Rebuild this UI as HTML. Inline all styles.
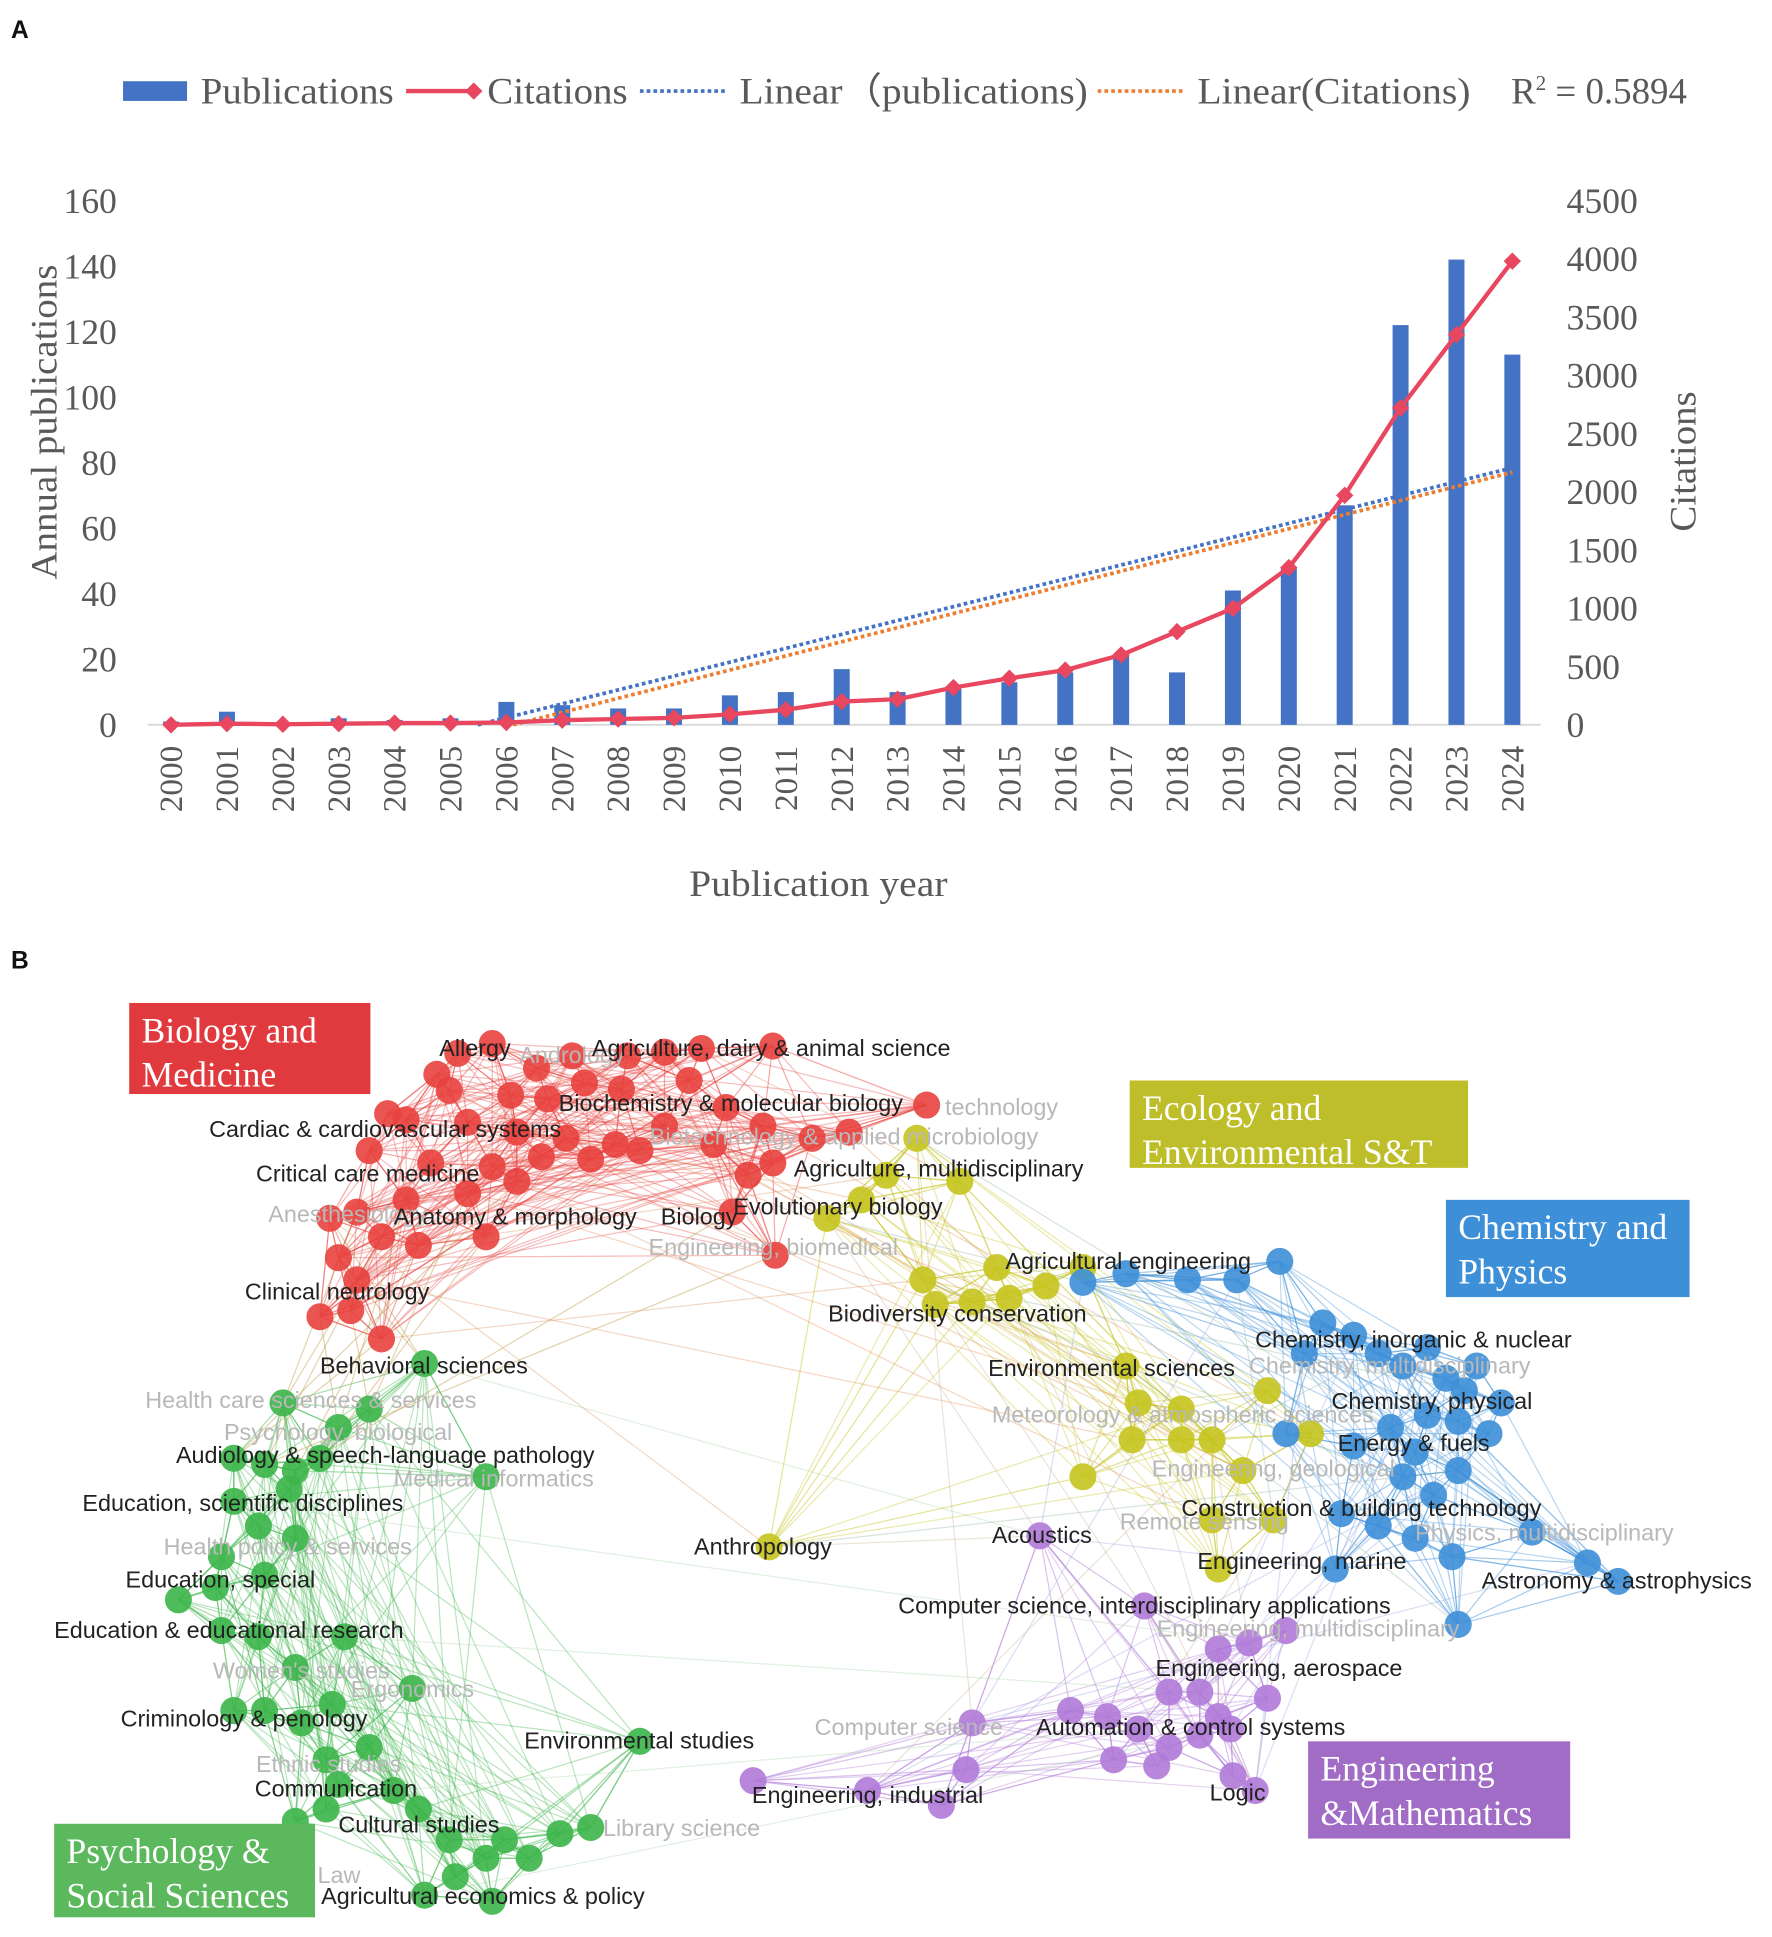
<!DOCTYPE html>
<html><head><meta charset="utf-8"><style>
html,body{margin:0;padding:0;background:#fff;}
svg{display:block;}
.serif{font-family:"Liberation Serif",serif;fill:#595959;}
.lbl{font-family:"Liberation Sans",sans-serif;font-size:19px;}
</style></head><body>
<svg id="root" width="1772" height="1937" viewBox="0 0 1440 1574" preserveAspectRatio="none" xmlns="http://www.w3.org/2000/svg">
<text x="9" y="31" font-family="Liberation Sans,sans-serif" font-weight="bold" font-size="20" fill="#111">A</text>
<text x="9" y="787" font-family="Liberation Sans,sans-serif" font-weight="bold" font-size="20" fill="#111">B</text>
<g id="chartA"></g>
<g id="net"></g>
</svg>
<script>
const years=[2000,2001,2002,2003,2004,2005,2006,2007,2008,2009,2010,2011,2012,2013,2014,2015,2016,2017,2018,2019,2020,2021,2022,2023,2024];
const publications=[1,4,0.5,2,1.5,2,7,6,5,5,9,10,17,10,11,13,16,21,16,41,48,67,122,142,113];
const citations=[0,10,5,10,15,15,20,40,50,60,90,130,200,220,320,400,470,600,800,1000,1350,1970,2720,3350,3980];
const leftTicks=[0,20,40,60,80,100,120,140,160];
const rightTicks=[0,500,1000,1500,2000,2500,3000,3500,4000,4500];
const NS="http://www.w3.org/2000/svg";
function mk(tag,attrs,parent){const e=document.createElementNS(NS,tag);for(const k in attrs)e.setAttribute(k,attrs[k]);parent.appendChild(e);return e;}
const A=document.getElementById('chartA');
const x0=139,dx=(1229-139)/24,yb=589,yt=163;
const xs=i=>x0+i*dx;
const yL=v=>yb-(v/160)*(yb-yt);
const yR=v=>yb-(v/4500)*(yb-yt);
leftTicks.forEach(t=>{const e=mk('text',{x:95,y:yL(t)+10,'text-anchor':'end','font-size':29,class:'serif'},A);e.textContent=t;

});
rightTicks.forEach(t=>{const e=mk('text',{x:1273,y:yR(t)+10,'font-size':29,class:'serif'},A);e.textContent=t;

});
let ax=mk('line',{x1:120,x2:1252,y1:yb,y2:yb,stroke:'#d9d9d9','stroke-width':1.5},A);


years.forEach((y,i)=>{
 const b=mk('rect',{x:xs(i)-6.5,y:yL(publications[i]),width:13,height:yb-yL(publications[i]),fill:'#4472c4'},A);
 
 
 const t=mk('text',{transform:`translate(${xs(i)+9},${606}) rotate(-90)`,'text-anchor':'end','font-size':27,class:'serif'},A);t.textContent=y;
 
 
});
function reg(arr){const n=arr.length;let sx=0,sy=0,sxy=0,sxx=0;arr.forEach((v,i)=>{sx+=i;sy+=v;sxy+=i*v;sxx+=i*i;});const m=(n*sxy-sx*sy)/(n*sxx-sx*sx);return [m,(sy-m*sx)/n];}
function trend(arr,fy,col,name){const [m,c]=reg(arr);const i0=Math.max(0,-c/m);const p=mk('line',{x1:xs(i0),y1:fy(m*i0+c),x2:xs(24),y2:fy(m*24+c),stroke:col,'stroke-width':3,'stroke-dasharray':'3 2.5'},A);

}
trend(publications,yL,'#4472c4','trend-publications');
trend(citations,yR,'#ed7d31','trend-citations');
const cl=mk('polyline',{points:citations.map((v,i)=>xs(i)+','+yR(v)).join(' '),fill:'none',stroke:'#e8475f','stroke-width':3.5},A);


citations.forEach((v,i)=>{const d=mk('rect',{x:xs(i)-5,y:yR(v)-5,width:10,height:10,fill:'#e8475f',transform:`rotate(45 ${xs(i)} ${yR(v)})`},A);

});
function txt(s,attrs,name,p){const e=mk('text',attrs,p||A);e.textContent=s;return e;}
txt('Annual publications',{transform:'translate(46,343) rotate(-90)','text-anchor':'middle','font-size':30,class:'serif',textLength:256,lengthAdjust:'spacingAndGlyphs'},'y-axis-title');
txt('Citations',{transform:'translate(1378,375) rotate(-90)','text-anchor':'middle','font-size':30,class:'serif',textLength:114,lengthAdjust:'spacingAndGlyphs'},'y2-axis-title');
txt('Publication year',{x:665,y:728,'text-anchor':'middle','font-size':30,class:'serif',textLength:210,lengthAdjust:'spacingAndGlyphs'},'x-axis-title');
const L=mk('g',{},A);
mk('rect',{x:100,y:66,width:52,height:16,fill:'#4472c4'},L);
txt('Publications',{x:163,y:84,'font-size':30,class:'serif',textLength:157,lengthAdjust:'spacingAndGlyphs'},'legend-publications',L);
mk('line',{x1:330,x2:385,y1:74,y2:74,stroke:'#e8475f','stroke-width':3.5},L);
mk('rect',{x:380,y:69,width:10,height:10,fill:'#e8475f',transform:'rotate(45 385 74)'},L);
txt('Citations',{x:396,y:84,'font-size':30,class:'serif',textLength:114,lengthAdjust:'spacingAndGlyphs'},'legend-citations',L);
mk('line',{x1:520,x2:590,y1:74,y2:74,stroke:'#4472c4','stroke-width':3,'stroke-dasharray':'3 2.5'},L);
txt('Linear（publications)',{x:601,y:84,'font-size':30,class:'serif',textLength:283,lengthAdjust:'spacingAndGlyphs'},'legend-linear-publications',L);
mk('line',{x1:892,x2:962,y1:74,y2:74,stroke:'#ed7d31','stroke-width':3,'stroke-dasharray':'3 2.5'},L);
txt('Linear(Citations)',{x:973,y:84,'font-size':30,class:'serif',textLength:222,lengthAdjust:'spacingAndGlyphs'},'legend-linear-citations',L);
const r2=txt('R',{x:1228,y:84,'font-size':30,class:'serif'},'legend-r-squared',L);
const ts=document.createElementNS(NS,'tspan');ts.setAttribute('dy','-11');ts.setAttribute('font-size','17');ts.textContent='2';r2.appendChild(ts);
const ts2=document.createElementNS(NS,'tspan');ts2.setAttribute('dy','11');ts2.textContent=' = 0.5894';r2.appendChild(ts2);

const N=document.getElementById('net');
const red=[[400,848],[372,856],[436,868],[465,858],[510,858],[540,855],[570,852],[628,850],[355,873],[365,886],[415,890],[445,893],[475,880],[505,885],[560,878],[590,900],[753,898],[315,905],[330,910],[380,912],[420,920],[460,925],[500,930],[540,915],[580,930],[620,915],[660,925],[690,920],[300,935],[350,945],[400,948],[440,940],[480,942],[520,935],[608,955],[628,945],[268,990],[290,985],[330,975],[380,970],[420,960],[310,1005],[340,1012],[395,1005],[275,1022],[290,1040],[260,1070],[285,1065],[310,1088],[630,1020],[595,985]];
const yellow=[[672,990],[700,975],[720,955],[745,925],[780,960],[810,1030],[750,1040],[760,1060],[790,1058],[820,1055],[850,1045],[880,1030],[915,1110],[925,1140],[960,1145],[985,1170],[960,1170],[920,1170],[1030,1130],[1010,1195],[985,1235],[1035,1235],[990,1275],[1065,1165],[625,1257],[880,1200]];
const blue=[[880,1042],[915,1035],[965,1040],[1005,1040],[1040,1025],[1075,1075],[1100,1085],[1120,1100],[1140,1110],[1160,1095],[1175,1120],[1190,1130],[1160,1150],[1185,1155],[1210,1165],[1130,1160],[1100,1175],[1150,1180],[1185,1195],[1045,1165],[1090,1230],[1120,1240],[1150,1250],[1180,1265],[1085,1275],[1245,1245],[1185,1320],[1290,1270],[1315,1285],[1140,1200],[1165,1215],[1200,1110],[1220,1140],[1060,1100]];
const green=[[345,1108],[230,1140],[275,1160],[300,1145],[190,1185],[215,1190],[240,1195],[260,1185],[235,1210],[190,1220],[210,1240],[240,1250],[180,1265],[145,1300],[175,1290],[215,1280],[180,1325],[210,1330],[280,1330],[240,1355],[335,1372],[190,1390],[215,1390],[270,1385],[245,1400],[265,1430],[275,1450],[320,1455],[340,1470],[365,1495],[395,1510],[410,1495],[430,1510],[455,1490],[480,1485],[370,1525],[345,1540],[400,1545],[520,1415],[395,1200],[300,1420],[265,1470],[240,1480]];
const purple=[[845,1248],[930,1305],[990,1340],[1015,1335],[1045,1325],[950,1375],[975,1375],[990,1395],[900,1395],[925,1405],[950,1420],[975,1410],[1000,1405],[905,1430],[940,1435],[790,1400],[785,1438],[765,1467],[705,1455],[612,1447],[1002,1443],[1020,1455],[870,1390],[1030,1380]];
const clusters=[[red,'#e8413e'],[yellow,'#c5c41e'],[blue,'#3d8fd8'],[green,'#3cb54a'],[purple,'#b07ad8']];
const EG=mk('g',{},N);
clusters.forEach(([pts,col],ci)=>{
 pts.forEach((p,i)=>{
  const ds=pts.map((q,j)=>[Math.hypot(q[0]-p[0],q[1]-p[1]),j]).sort((a,b)=>a[0]-b[0]);
  for(let k=1;k<6&&k<ds.length;k++){const q=pts[ds[k][1]];mk('line',{x1:p[0],y1:p[1],x2:q[0],y2:q[1],stroke:col,'stroke-width':1,opacity:.45},EG);}
  pts.forEach((q,j)=>{if(j>i&&(i*7+j*13)%5===0)mk('line',{x1:p[0],y1:p[1],x2:q[0],y2:q[1],stroke:col,'stroke-width':1,opacity:.35},EG);});
 });
});
// neighbouring cluster links (red-yellow, yellow-blue, blue-purple, red-green)
[[red,yellow,'#e0905a'],[yellow,blue,'#8fb4a0'],[blue,purple,'#9aa4e0'],[yellow,purple,'#c8b090']].forEach(([a,b,col])=>{
 a.forEach((p,i)=>{if(i%3===0){const q=b[(i*5)%b.length];mk('line',{x1:p[0],y1:p[1],x2:q[0],y2:q[1],stroke:col,'stroke-width':1,opacity:.35},EG);}});});
red.slice(36).forEach((p,i)=>{const q=green[i%8];mk('line',{x1:p[0],y1:p[1],x2:q[0],y2:q[1],stroke:'#b8943a','stroke-width':1,opacity:.4},EG);});
green.forEach((p,i)=>{if(i%9===0){const q=purple[(i*3)%purple.length];mk('line',{x1:p[0],y1:p[1],x2:q[0],y2:q[1],stroke:'#9fd09a','stroke-width':1,opacity:.3},EG);}});
const NG=mk('g',{},N);
clusters.forEach(([pts,col])=>{pts.forEach(p=>{const c=mk('circle',{cx:p[0],cy:p[1],r:11,fill:col,opacity:.9},NG);

});});
const labels=[["Allergy",357,858,1],["Andrology",422,864,0],["Agriculture, dairy & animal science",481,858,1],["Biochemistry & molecular biology",454,903,1],["technology",768,906,0],["Cardiac & cardiovascular systems",170,924,1],["Biotechnology & applied microbiology",528,930,0],["Agriculture, multidisciplinary",645,956,1],["Critical care medicine",208,960,1],["Anesthesiology",218,993,0],["Anatomy & morphology",320,995,1],["Biology",537,995,1],["Evolutionary biology",596,987,1],["Engineering, biomedical",527,1020,0],["Agricultural engineering",817,1031,1],["Clinical neurology",199,1056,1],["Biodiversity conservation",673,1074,1],["Chemistry, inorganic & nuclear",1020,1095,1],["Behavioral sciences",260,1116,1],["Environmental sciences",803,1118,1],["Chemistry, multidisciplinary",1015,1116,0],["Health care sciences & services",118,1144,0],["Chemistry, physical",1082,1145,1],["Meteorology & atmospheric sciences",806,1156,0],["Psychology, biological",182,1170,0],["Energy & fuels",1087,1179,1],["Audiology & speech-language pathology",143,1189,1],["Engineering, geological",936,1200,0],["Medical informatics",320,1208,0],["Education, scientific disciplines",67,1228,1],["Construction & building technology",960,1232,1],["Remote sensing",910,1243,0],["Acoustics",806,1254,1],["Physics, multidisciplinary",1150,1252,0],["Health policy & services",133,1263,0],["Anthropology",564,1263,1],["Education, special",102,1290,1],["Engineering, marine",973,1275,1],["Astronomy & astrophysics",1204,1291,1],["Computer science, interdisciplinary applications",730,1311,1],["Education & educational research",44,1331,1],["Engineering, multidisciplinary",940,1330,0],["Women's studies",173,1364,0],["Engineering, aerospace",939,1362,1],["Ergonomics",285,1379,0],["Criminology & penology",98,1403,1],["Computer science",662,1410,0],["Automation & control systems",842,1410,1],["Environmental studies",426,1421,1],["Ethnic studies",208,1440,0],["Communication",207,1460,1],["Engineering, industrial",611,1465,1],["Logic",983,1463,1],["Cultural studies",275,1489,1],["Library science",490,1492,0],["Law",258,1530,0],["Agricultural economics & policy",261,1547,1]];
labels.forEach(([s,x,y,dark])=>{const t=mk('text',{x:x,y:y,class:'lbl',fill:dark?'#222':'#b8b8b8'},N);t.textContent=s;

});
const boxes=[["Biology and","Medicine",105,815,196,74,'#e03a3e','cluster-box-biology'],["Ecology and","Environmental S&T",918,878,275,71,'#bebd2a','cluster-box-ecology'],["Chemistry and","Physics",1175,975,198,79,'#3d8fd8','cluster-box-chemistry'],["Engineering","&Mathematics",1063,1415,213,79,'#a06cc6','cluster-box-engineering'],["Psychology &","Social Sciences",44,1482,212,76,'#5cb85c','cluster-box-psychology']];
boxes.forEach(([a,b,x,y,w,h,c,n])=>{const g=mk('g',{},N);
mk('rect',{x:x,y:y,width:w,height:h,fill:c},g);
const t1=mk('text',{x:x+10,y:y+32,'font-family':'Liberation Serif,serif','font-size':29,fill:'#fff'},g);t1.textContent=a;
const t2=mk('text',{x:x+10,y:y+68,'font-family':'Liberation Serif,serif','font-size':29,fill:'#fff'},g);t2.textContent=b;});
</script>
</body></html>
